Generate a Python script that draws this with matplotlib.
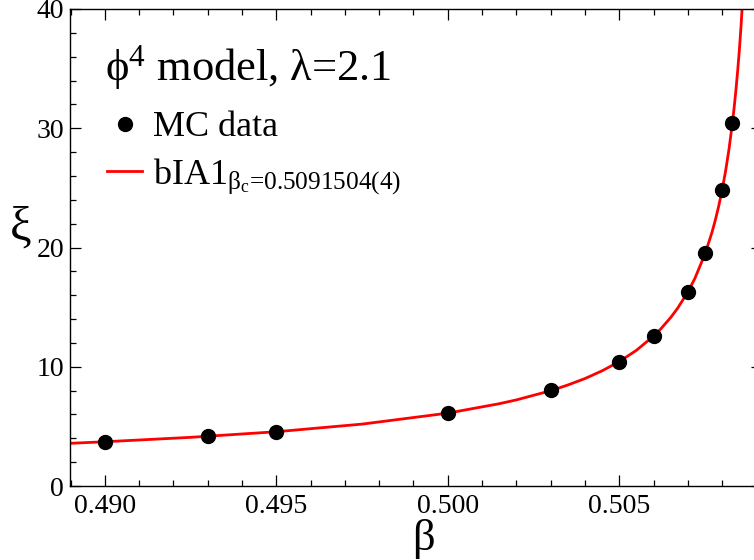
import numpy as np
import matplotlib
matplotlib.use("Agg")
import matplotlib.pyplot as plt
from matplotlib.ticker import MultipleLocator, FixedLocator

plt.rcParams['font.family'] = ['Liberation Serif', 'DejaVu Serif']
plt.rcParams['mathtext.fontset'] = 'custom'
plt.rcParams['mathtext.rm'] = 'Liberation Serif'
plt.rcParams['mathtext.it'] = 'Liberation Serif:italic'
plt.rcParams['mathtext.bf'] = 'Liberation Serif:bold'

# Monte Carlo data
beta_mc = [0.490, 0.493, 0.495, 0.500, 0.503, 0.505, 0.506, 0.507, 0.5075, 0.508, 0.5083]
xi_mc = [3.71, 4.19, 4.55, 6.15, 8.05, 10.42, 12.60, 16.29, 19.51, 24.82, 30.47]

# bIA1 fit curve, sampled along the drawn line
beta_fit = [0.4890, 0.4900, 0.4925, 0.4950, 0.4975, 0.5000, 0.5015, 0.5020, 0.5030,
            0.5035, 0.5040, 0.5045, 0.5050, 0.5055, 0.5060, 0.5062, 0.5065, 0.5067,
            0.5070, 0.5072, 0.5075, 0.5077, 0.5078, 0.5079, 0.5080, 0.5081, 0.5082,
            0.5083, 0.50835, 0.5084, 0.50845, 0.5085, 0.50855, 0.5086, 0.5087]
xi_fit = [3.58, 3.71, 4.08, 4.55, 5.19, 6.11, 6.90, 7.22, 7.99,
          8.47, 9.01, 9.66, 10.43, 11.38, 12.57, 13.14, 14.13, 14.90,
          16.27, 17.38, 19.46, 21.24, 22.29, 23.48, 24.84, 26.41, 28.26,
          30.47, 31.75, 33.16, 34.74, 36.5, 38.55, 40.9, 46.8]

xticks = [0.490, 0.495, 0.500, 0.505]
xticklabels = ["0.490", "0.495", "0.500", "0.505"]
yticks = [0, 10, 20, 30, 40]

W, H = 754, 560
fig = plt.figure(figsize=(W / 100, H / 100), dpi=100)


def fx(px):
    return px / W


def fy(py):
    return 1 - py / H


# the frame runs a little past the right edge of the picture
x0, x1, y0, y1 = 69.5, 761.6, 486, 9
ax = fig.add_axes([fx(x0), fy(y0), fx(x1) - fx(x0), fy(y1) - fy(y0)])

line, = ax.plot(beta_fit, xi_fit, color='red', lw=2.0, zorder=2)
pts, = ax.plot(beta_mc, xi_mc, 'o', color='black', ms=10, zorder=3, ls='none')

ax.set_xlim(0.48897, 0.50915)
ax.set_ylim(0, 40)

ax.xaxis.set_major_locator(FixedLocator(xticks))
ax.set_xticklabels(xticklabels)
ax.xaxis.set_minor_locator(MultipleLocator(0.001))
ax.yaxis.set_major_locator(FixedLocator(yticks))
ax.yaxis.set_minor_locator(MultipleLocator(2))

ax.tick_params(which='both', direction='in', top=True, right=True,
               labelsize=20, width=0.9)
ax.tick_params(axis='x', pad=6)
ax.tick_params(axis='y', pad=4)
ax.tick_params(which='major', length=8)
ax.tick_params(which='minor', length=4.3)
for s in ax.spines.values():
    s.set_linewidth(1.0)

ax.set_xlabel(r"$\mathrm{\beta}$", fontsize=32, va='baseline')
ax.xaxis.set_label_coords((423 - x0) / (x1 - x0), -(550 - y0) / (y0 - y1))
ax.set_ylabel(r"$\mathrm{\xi}$", fontsize=35, rotation=0, va='center', ha='center')
ax.yaxis.set_label_coords(-(x0 - 20) / (x1 - x0), (y0 - 227) / (y0 - y1))

fig.text(fx(105), fy(80), r"$\mathrm{\phi}^{4}$ model, $\mathrm{\lambda}$=2.1",
         fontsize=32, ha='left', va='baseline')

leg = ax.legend([pts, line],
                ["MC data", r"bIA1$_{\mathrm{\beta_c}\text{=0.5091504(4)}}$"],
                loc='upper left', bbox_to_anchor=(fx(107), fy(111)),
                bbox_transform=fig.transFigure, frameon=False, fontsize=26,
                handlelength=0.97, handletextpad=0.30, borderpad=0,
                borderaxespad=0, labelspacing=0.33, numpoints=1)

fig.savefig("out.png", dpi=100)
